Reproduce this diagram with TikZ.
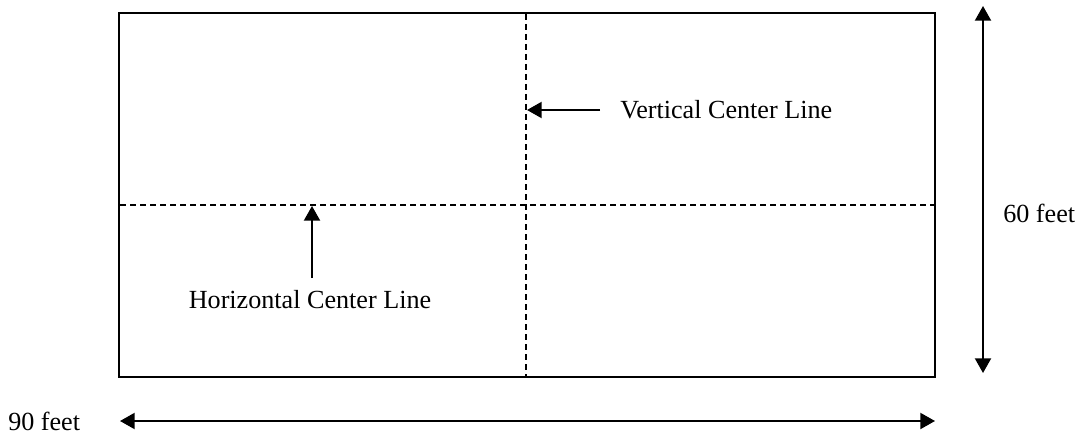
\documentclass[tikz,border=0pt]{standalone}
\usepackage{fontspec}
\setmainfont{Liberation Serif}
\usetikzlibrary{arrows.meta}
\begin{document}
\begin{tikzpicture}[x=0.75pt,y=-0.75pt,
  frame/.style={line width=1.5pt},
  centerline/.style={line width=1.1pt,dash pattern=on 4.5pt off 3pt},
  pointer/.style={line width=1.5pt,-{Triangle[length=11pt,width=12pt]}},
  dimarrow/.style={line width=1.5pt,{Triangle[length=11pt,width=12pt]}-{Triangle[length=11pt,width=12pt]}},
  lbl/.style={inner sep=0pt,font=\fontsize{19.6}{23}\selectfont}]
\useasboundingbox (0,0) rectangle (1082,435);
\coordinate (tl) at (119,13);
\coordinate (br) at (935,377);
\draw[frame] (tl) rectangle (br);
\coordinate (vtop) at (526,14);
\coordinate (vbot) at (526,376);
\coordinate (hleft) at (120,205);
\coordinate (hright) at (934,205);
\draw[centerline] (vtop) -- (vbot);
\draw[centerline] (hleft) -- (hright);
\node[lbl,anchor=west] (vlabel) at (620,110) {Vertical Center Line};
\coordinate (vstart) at (600,110);
\coordinate (vend) at (527,110);
\draw[pointer] (vstart) -- (vend);
\node[lbl] (hlabel) at (310,300) {Horizontal Center Line};
\coordinate (hstart) at (312,278);
\coordinate (hend) at (312,206);
\draw[pointer] (hstart) -- (hend);
\coordinate (rtop) at (983,6);
\coordinate (rbot) at (983,373);
\draw[dimarrow] (rbot) -- (rtop);
\node[lbl,anchor=west] (sixty) at (1003,213) {60 feet};
\coordinate (bleft) at (120,421);
\coordinate (bright) at (935,421);
\draw[dimarrow] (bleft) -- (bright);
\node[lbl,anchor=west] (ninety) at (8,421) {90 feet};
\end{tikzpicture}
\end{document}
